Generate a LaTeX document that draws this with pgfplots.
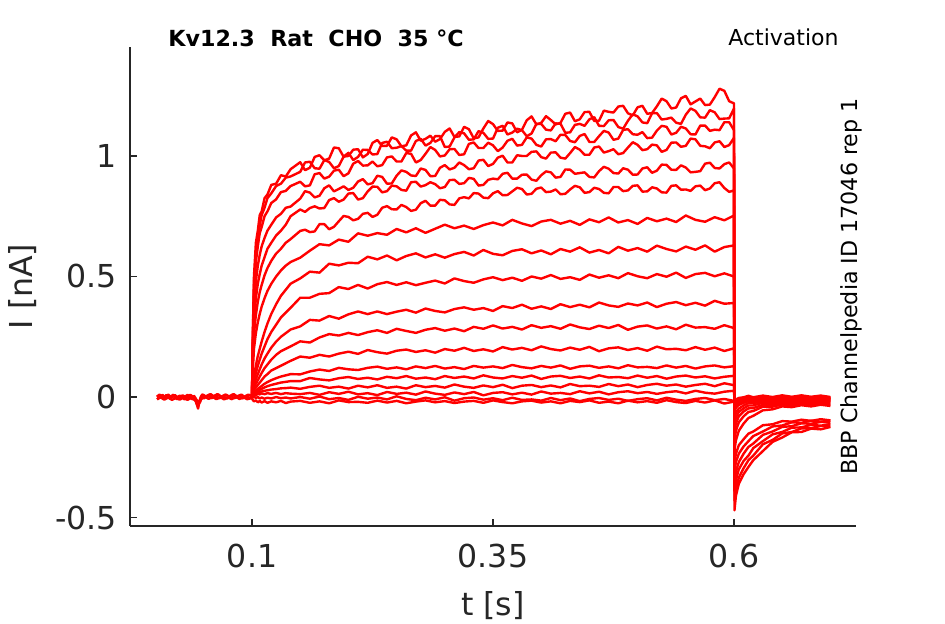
\documentclass[border=0pt]{standalone}
\usepackage{fontspec}
\setmainfont{DejaVu Sans}
\usepackage{pgfplots}
\pgfplotsset{compat=1.18}
\definecolor{axgray}{gray}{0.15}
\begin{document}
\begin{tikzpicture}
\begin{axis}[
 name=ax, at={(0,0)}, anchor=south west,
 scale only axis, width=363pt, height=239.5pt,
 xmin=-0.0266, xmax=0.7266, ymin=-0.535, ymax=1.452,
 axis lines*=left,
 axis line style={axgray, line width=0.6pt},
 xtick={0.1,0.35,0.6}, xticklabels={0.1,0.35,0.6},
 ytick={-0.5,0,0.5,1}, yticklabels={-0.5,0,0.5,1},
 tick align=inside, major tick length=3.5pt,
 tick style={axgray, line width=0.6pt},
 ticklabel style={font=\fontsize{15.8}{19}\selectfont, text=axgray},
 xticklabel style={yshift=-5.5pt},
 yticklabel style={xshift=-3pt},
 xlabel={t [s]}, ylabel={I [nA]},
 label style={font=\fontsize{15.8}{19}\selectfont, text=axgray},
 xlabel style={at={(axis description cs:0.5,-0.1858)}, anchor=base},
 ylabel style={at={(axis description cs:-0.1336,0.5)}, anchor=base},
 tr/.style={red, line width=1.2pt, line join=round},
]
% baseline before the pulse
\addplot[tr] coordinates {(0.0015,0.008)(0.004,-0.004)(0.007,0.009)(0.01,-0.002)(0.013,0.01)(0.016,0.0)(0.02,0.008)(0.024,-0.005)(0.028,0.007)(0.032,-0.002)(0.036,0.009)(0.04,-0.002)(0.042,-0.02)(0.044,-0.048)(0.046,-0.01)(0.048,0.009)(0.052,0.002)(0.056,0.011)(0.06,0.003)(0.064,0.012)(0.068,0.0)(0.072,0.01)(0.076,0.002)(0.08,0.011)(0.084,-0.001)(0.088,0.009)(0.092,0.001)(0.096,0.01)(0.1,0.003)};
\addplot[tr] coordinates {(0.0015,-0.009)(0.005,0.004)(0.008,-0.008)(0.012,0.003)(0.015,-0.007)(0.019,0.005)(0.022,-0.009)(0.026,0.004)(0.03,-0.01)(0.034,0.002)(0.038,-0.009)(0.041,-0.01)(0.043,-0.032)(0.045,-0.026)(0.047,0.002)(0.05,-0.006)(0.054,0.006)(0.058,-0.005)(0.062,0.004)(0.066,-0.006)(0.07,0.005)(0.074,-0.007)(0.078,0.004)(0.082,-0.005)(0.086,0.006)(0.09,-0.006)(0.094,0.003)(0.097,-0.005)(0.1,-0.002)};
\addplot[tr] coordinates {(0.0015,0.001)(0.004,0.01)(0.008,-0.003)(0.011,0.008)(0.014,-0.004)(0.018,0.009)(0.021,-0.006)(0.025,0.006)(0.029,-0.003)(0.033,0.009)(0.037,-0.004)(0.04,0.004)(0.043,-0.015)(0.046,-0.022)(0.049,0.01)(0.053,0.0)(0.057,0.012)(0.061,0.001)(0.065,0.011)(0.069,-0.002)(0.073,0.01)(0.077,0.0)(0.081,0.012)(0.085,0.001)(0.089,0.01)(0.093,-0.002)(0.097,0.008)(0.1,0.004)};
\addplot[tr] coordinates {(0.0015,-0.01)(0.005,-0.001)(0.009,-0.011)(0.013,-0.002)(0.017,-0.012)(0.021,-0.003)(0.025,-0.011)(0.029,-0.002)(0.033,-0.012)(0.037,-0.003)(0.041,-0.013)(0.044,-0.036)(0.047,-0.009)(0.051,0.002)(0.055,-0.008)(0.059,0.001)(0.063,-0.009)(0.067,0.0)(0.071,-0.01)(0.075,-0.001)(0.079,-0.009)(0.083,0.001)(0.087,-0.008)(0.091,-0.001)(0.095,-0.009)(0.1,-0.004)};
% k1
\addplot[tr] coordinates {(0.1,0.002)(0.1005,0.20)(0.102,0.50)(0.104,0.64)(0.106,0.69)(0.108,0.755)(0.11,0.77)(0.113,0.825)(0.116,0.84)(0.12,0.88)(0.125,0.885)(0.13,0.92)(0.135,0.915)(0.14,0.945)(0.15,0.974)(0.155,0.941)(0.16,0.951)(0.165,0.996)(0.17,1.003)(0.175,0.982)(0.18,0.989)(0.185,1.035)(0.19,1.032)(0.195,0.997)(0.2,1.000)(0.205,1.026)(0.21,1.028)(0.215,0.994)(0.22,1.008)(0.225,1.054)(0.23,1.066)(0.235,1.042)(0.24,1.042)(0.245,1.077)(0.25,1.069)(0.255,1.040)(0.26,1.044)(0.265,1.085)(0.27,1.098)(0.275,1.063)(0.28,1.071)(0.285,1.084)(0.29,1.059)(0.295,1.070)(0.3,1.100)(0.305,1.114)(0.31,1.079)(0.315,1.081)(0.32,1.121)(0.325,1.111)(0.33,1.073)(0.335,1.077)(0.34,1.114)(0.345,1.145)(0.35,1.132)(0.355,1.104)(0.36,1.105)(0.365,1.139)(0.37,1.135)(0.375,1.098)(0.38,1.108)(0.385,1.148)(0.39,1.164)(0.395,1.131)(0.4,1.137)(0.405,1.165)(0.41,1.149)(0.415,1.131)(0.42,1.137)(0.425,1.175)(0.43,1.180)(0.435,1.144)(0.44,1.152)(0.445,1.182)(0.45,1.183)(0.455,1.145)(0.46,1.146)(0.465,1.188)(0.47,1.183)(0.475,1.180)(0.48,1.205)(0.485,1.208)(0.49,1.177)(0.495,1.168)(0.5,1.202)(0.505,1.208)(0.51,1.175)(0.515,1.178)(0.52,1.206)(0.525,1.238)(0.53,1.227)(0.535,1.197)(0.54,1.201)(0.545,1.239)(0.55,1.249)(0.555,1.214)(0.56,1.226)(0.565,1.238)(0.57,1.211)(0.575,1.213)(0.58,1.244)(0.585,1.279)(0.59,1.270)(0.595,1.227)(0.6,1.218)(0.6005,-0.47)(0.602,-0.41)(0.605,-0.36)(0.61,-0.32)(0.615,-0.29)(0.62,-0.262)(0.63,-0.224)(0.64,-0.186)(0.65,-0.168)(0.66,-0.146)(0.67,-0.145)(0.68,-0.131)(0.69,-0.134)(0.7,-0.124)};
% k2
\addplot[tr] coordinates {(0.1,-0.001)(0.1005,0.19)(0.102,0.47)(0.104,0.60)(0.106,0.675)(0.108,0.71)(0.11,0.755)(0.113,0.785)(0.116,0.825)(0.12,0.845)(0.125,0.875)(0.13,0.885)(0.135,0.91)(0.14,0.915)(0.15,0.934)(0.155,0.973)(0.16,0.976)(0.165,0.949)(0.17,0.947)(0.175,0.983)(0.18,0.975)(0.185,0.949)(0.19,0.958)(0.195,0.997)(0.2,1.013)(0.205,0.983)(0.21,0.996)(0.215,1.026)(0.22,1.025)(0.225,1.006)(0.23,1.008)(0.235,1.054)(0.24,1.059)(0.245,1.032)(0.25,1.034)(0.255,1.041)(0.26,1.022)(0.265,1.022)(0.27,1.062)(0.275,1.071)(0.28,1.043)(0.285,1.054)(0.29,1.082)(0.295,1.082)(0.3,1.037)(0.305,1.039)(0.31,1.077)(0.315,1.099)(0.32,1.094)(0.325,1.067)(0.33,1.069)(0.335,1.103)(0.34,1.096)(0.345,1.071)(0.35,1.072)(0.355,1.117)(0.36,1.125)(0.365,1.089)(0.37,1.097)(0.375,1.113)(0.38,1.107)(0.385,1.082)(0.39,1.093)(0.395,1.133)(0.4,1.133)(0.405,1.109)(0.41,1.106)(0.415,1.135)(0.42,1.134)(0.425,1.096)(0.43,1.098)(0.435,1.129)(0.44,1.133)(0.445,1.125)(0.45,1.152)(0.455,1.161)(0.46,1.125)(0.465,1.124)(0.47,1.148)(0.475,1.149)(0.48,1.120)(0.485,1.113)(0.49,1.146)(0.495,1.173)(0.5,1.164)(0.505,1.139)(0.51,1.136)(0.515,1.177)(0.52,1.178)(0.525,1.151)(0.53,1.154)(0.535,1.159)(0.54,1.138)(0.545,1.133)(0.55,1.171)(0.555,1.197)(0.56,1.187)(0.565,1.160)(0.57,1.159)(0.575,1.190)(0.58,1.181)(0.585,1.153)(0.59,1.155)(0.595,1.156)(0.6,1.197)(0.6005,-0.43)(0.602,-0.38)(0.605,-0.335)(0.61,-0.295)(0.615,-0.262)(0.62,-0.243)(0.63,-0.196)(0.64,-0.178)(0.65,-0.151)(0.66,-0.145)(0.67,-0.13)(0.68,-0.129)(0.69,-0.12)(0.7,-0.122)};
% k3
\addplot[tr] coordinates {(0.1,0.003)(0.1005,0.17)(0.102,0.43)(0.104,0.56)(0.106,0.625)(0.108,0.68)(0.11,0.705)(0.113,0.75)(0.116,0.77)(0.12,0.805)(0.125,0.82)(0.13,0.85)(0.135,0.855)(0.14,0.875)(0.15,0.893)(0.155,0.874)(0.16,0.878)(0.165,0.924)(0.17,0.929)(0.175,0.906)(0.18,0.914)(0.185,0.939)(0.19,0.943)(0.195,0.916)(0.2,0.928)(0.205,0.968)(0.21,0.979)(0.215,0.960)(0.22,0.961)(0.225,0.977)(0.23,0.957)(0.235,0.962)(0.24,0.994)(0.245,0.998)(0.25,0.977)(0.255,0.977)(0.26,1.012)(0.265,1.009)(0.27,0.973)(0.275,0.983)(0.28,1.009)(0.285,1.037)(0.29,1.025)(0.295,0.998)(0.3,1.002)(0.305,1.028)(0.31,1.029)(0.315,1.004)(0.32,1.007)(0.325,1.050)(0.33,1.056)(0.335,1.033)(0.34,1.033)(0.345,1.055)(0.35,1.044)(0.355,1.020)(0.36,1.035)(0.365,1.063)(0.37,1.071)(0.375,1.043)(0.38,1.046)(0.385,1.077)(0.39,1.072)(0.395,1.046)(0.4,1.039)(0.405,1.069)(0.41,1.070)(0.415,1.061)(0.42,1.088)(0.425,1.087)(0.43,1.062)(0.435,1.057)(0.44,1.083)(0.445,1.091)(0.45,1.058)(0.455,1.058)(0.46,1.082)(0.465,1.104)(0.47,1.097)(0.475,1.067)(0.48,1.072)(0.485,1.108)(0.49,1.111)(0.495,1.090)(0.5,1.088)(0.505,1.099)(0.51,1.074)(0.515,1.076)(0.52,1.105)(0.525,1.125)(0.53,1.121)(0.535,1.089)(0.54,1.096)(0.545,1.121)(0.55,1.114)(0.555,1.090)(0.56,1.089)(0.565,1.126)(0.57,1.126)(0.575,1.104)(0.58,1.109)(0.585,1.107)(0.59,1.140)(0.595,1.140)(0.6,1.107)(0.6005,-0.39)(0.602,-0.345)(0.605,-0.30)(0.61,-0.265)(0.615,-0.243)(0.62,-0.212)(0.63,-0.183)(0.64,-0.155)(0.65,-0.145)(0.66,-0.127)(0.67,-0.126)(0.68,-0.115)(0.69,-0.119)(0.7,-0.112)};
% k4
\addplot[tr] coordinates {(0.1,-0.003)(0.1005,0.15)(0.102,0.37)(0.104,0.48)(0.106,0.545)(0.108,0.59)(0.11,0.625)(0.113,0.66)(0.116,0.69)(0.12,0.715)(0.125,0.745)(0.13,0.76)(0.135,0.785)(0.14,0.79)(0.15,0.823)(0.155,0.854)(0.16,0.848)(0.165,0.828)(0.17,0.835)(0.175,0.866)(0.18,0.878)(0.185,0.853)(0.19,0.863)(0.195,0.874)(0.2,0.859)(0.205,0.868)(0.21,0.894)(0.215,0.904)(0.22,0.882)(0.225,0.887)(0.23,0.918)(0.235,0.913)(0.24,0.885)(0.245,0.886)(0.25,0.918)(0.255,0.940)(0.26,0.934)(0.265,0.919)(0.27,0.917)(0.275,0.948)(0.28,0.942)(0.285,0.916)(0.29,0.917)(0.295,0.951)(0.3,0.962)(0.305,0.944)(0.31,0.951)(0.315,0.973)(0.32,0.962)(0.325,0.945)(0.33,0.949)(0.335,0.981)(0.34,0.984)(0.345,0.958)(0.35,0.967)(0.355,0.993)(0.36,1.001)(0.365,0.973)(0.37,0.973)(0.375,1.003)(0.38,1.000)(0.385,1.000)(0.39,1.017)(0.395,1.019)(0.4,0.995)(0.405,0.989)(0.41,1.014)(0.415,1.015)(0.42,0.993)(0.425,0.989)(0.43,1.012)(0.435,1.037)(0.44,1.026)(0.445,1.005)(0.45,1.005)(0.455,1.035)(0.46,1.039)(0.465,1.014)(0.47,1.020)(0.475,1.028)(0.48,1.007)(0.485,1.012)(0.49,1.035)(0.495,1.057)(0.5,1.046)(0.505,1.024)(0.51,1.028)(0.515,1.047)(0.52,1.044)(0.525,1.017)(0.53,1.025)(0.535,1.055)(0.54,1.056)(0.545,1.038)(0.55,1.042)(0.555,1.072)(0.56,1.069)(0.565,1.042)(0.57,1.040)(0.575,1.032)(0.58,1.056)(0.585,1.061)(0.59,1.037)(0.595,1.045)(0.6,1.075)(0.6005,-0.35)(0.602,-0.31)(0.605,-0.27)(0.61,-0.235)(0.615,-0.207)(0.62,-0.193)(0.63,-0.157)(0.64,-0.143)(0.65,-0.124)(0.66,-0.121)(0.67,-0.109)(0.68,-0.111)(0.69,-0.103)(0.7,-0.106)};
% k5
\addplot[tr] coordinates {(0.1,0.001)(0.1005,0.13)(0.102,0.31)(0.104,0.41)(0.106,0.47)(0.108,0.51)(0.11,0.545)(0.113,0.58)(0.116,0.615)(0.12,0.64)(0.125,0.67)(0.13,0.69)(0.135,0.715)(0.14,0.75)(0.15,0.778)(0.155,0.768)(0.16,0.784)(0.165,0.791)(0.17,0.782)(0.175,0.784)(0.18,0.817)(0.185,0.825)(0.19,0.810)(0.195,0.819)(0.2,0.844)(0.205,0.846)(0.21,0.819)(0.215,0.825)(0.22,0.853)(0.225,0.873)(0.23,0.872)(0.235,0.849)(0.24,0.854)(0.245,0.877)(0.25,0.874)(0.255,0.859)(0.26,0.856)(0.265,0.891)(0.27,0.893)(0.275,0.873)(0.28,0.879)(0.285,0.891)(0.29,0.883)(0.295,0.866)(0.3,0.871)(0.305,0.900)(0.31,0.901)(0.315,0.884)(0.32,0.887)(0.325,0.909)(0.33,0.905)(0.335,0.877)(0.34,0.880)(0.345,0.901)(0.35,0.906)(0.355,0.903)(0.36,0.926)(0.365,0.930)(0.37,0.906)(0.375,0.906)(0.38,0.922)(0.385,0.923)(0.39,0.902)(0.395,0.897)(0.4,0.920)(0.405,0.936)(0.41,0.932)(0.415,0.910)(0.42,0.913)(0.425,0.944)(0.43,0.943)(0.435,0.926)(0.44,0.929)(0.445,0.932)(0.45,0.913)(0.455,0.911)(0.46,0.937)(0.465,0.955)(0.47,0.947)(0.475,0.929)(0.48,0.927)(0.485,0.949)(0.49,0.943)(0.495,0.922)(0.5,0.923)(0.505,0.948)(0.51,0.953)(0.515,0.930)(0.52,0.939)(0.525,0.964)(0.53,0.963)(0.535,0.943)(0.54,0.942)(0.545,0.961)(0.55,0.952)(0.555,0.932)(0.56,0.934)(0.565,0.937)(0.57,0.968)(0.575,0.972)(0.58,0.950)(0.585,0.948)(0.59,0.966)(0.595,0.973)(0.6,0.948)(0.6005,-0.31)(0.602,-0.27)(0.605,-0.235)(0.61,-0.205)(0.615,-0.183)(0.62,-0.162)(0.63,-0.143)(0.64,-0.122)(0.65,-0.118)(0.66,-0.105)(0.67,-0.107)(0.68,-0.098)(0.69,-0.103)(0.7,-0.097)};
% k6
\addplot[tr] coordinates {(0.1,0.004)(0.1005,0.11)(0.102,0.26)(0.104,0.34)(0.106,0.395)(0.108,0.435)(0.11,0.465)(0.113,0.505)(0.116,0.535)(0.12,0.565)(0.125,0.595)(0.13,0.615)(0.135,0.64)(0.14,0.655)(0.15,0.689)(0.155,0.694)(0.16,0.684)(0.165,0.687)(0.17,0.717)(0.175,0.717)(0.18,0.696)(0.185,0.706)(0.19,0.729)(0.195,0.751)(0.2,0.747)(0.205,0.733)(0.21,0.739)(0.215,0.760)(0.22,0.764)(0.225,0.747)(0.23,0.756)(0.235,0.785)(0.24,0.792)(0.245,0.779)(0.25,0.778)(0.255,0.797)(0.26,0.788)(0.265,0.772)(0.27,0.777)(0.275,0.804)(0.28,0.814)(0.285,0.794)(0.29,0.794)(0.295,0.818)(0.3,0.816)(0.305,0.799)(0.31,0.797)(0.315,0.824)(0.32,0.829)(0.325,0.824)(0.33,0.846)(0.335,0.844)(0.34,0.827)(0.345,0.825)(0.35,0.845)(0.355,0.854)(0.36,0.837)(0.365,0.838)(0.37,0.853)(0.375,0.868)(0.38,0.863)(0.385,0.840)(0.39,0.843)(0.395,0.864)(0.4,0.869)(0.405,0.850)(0.41,0.852)(0.415,0.861)(0.42,0.841)(0.425,0.843)(0.43,0.861)(0.435,0.876)(0.44,0.870)(0.445,0.847)(0.45,0.850)(0.455,0.868)(0.46,0.863)(0.465,0.847)(0.47,0.845)(0.475,0.871)(0.48,0.871)(0.485,0.854)(0.49,0.857)(0.495,0.876)(0.5,0.878)(0.505,0.852)(0.51,0.853)(0.515,0.870)(0.52,0.865)(0.525,0.849)(0.53,0.848)(0.535,0.876)(0.54,0.878)(0.545,0.860)(0.55,0.861)(0.555,0.855)(0.56,0.874)(0.565,0.877)(0.57,0.858)(0.575,0.865)(0.58,0.887)(0.585,0.891)(0.59,0.867)(0.595,0.851)(0.6,0.857)(0.6005,-0.27)(0.602,-0.235)(0.605,-0.20)(0.61,-0.175)(0.615,-0.152)(0.62,-0.143)(0.63,-0.117)(0.64,-0.113)(0.65,-0.1)(0.66,-0.102)(0.67,-0.094)(0.68,-0.099)(0.69,-0.092)(0.7,-0.097)};
% k7
\addplot[tr] coordinates {(0.1,-0.002)(0.1005,0.09)(0.102,0.20)(0.104,0.265)(0.106,0.31)(0.108,0.345)(0.11,0.375)(0.113,0.41)(0.116,0.44)(0.12,0.47)(0.125,0.50)(0.13,0.525)(0.135,0.545)(0.14,0.56)(0.15,0.578)(0.16,0.607)(0.17,0.634)(0.18,0.629)(0.19,0.653)(0.2,0.644)(0.21,0.679)(0.22,0.669)(0.23,0.680)(0.24,0.673)(0.25,0.697)(0.26,0.683)(0.27,0.700)(0.28,0.681)(0.29,0.698)(0.3,0.715)(0.31,0.700)(0.32,0.711)(0.33,0.697)(0.34,0.713)(0.35,0.724)(0.36,0.712)(0.37,0.735)(0.38,0.720)(0.39,0.709)(0.4,0.728)(0.41,0.735)(0.42,0.719)(0.43,0.731)(0.44,0.714)(0.45,0.737)(0.46,0.725)(0.47,0.745)(0.48,0.724)(0.49,0.734)(0.5,0.718)(0.51,0.743)(0.52,0.729)(0.53,0.740)(0.54,0.726)(0.55,0.753)(0.56,0.735)(0.57,0.727)(0.58,0.746)(0.59,0.733)(0.6,0.753)(0.6005,-0.22)(0.602,-0.18)(0.605,-0.14)(0.61,-0.11)(0.615,-0.087)(0.62,-0.078)(0.63,-0.055)(0.64,-0.051)(0.65,-0.039)(0.66,-0.042)(0.67,-0.034)(0.68,-0.039)(0.69,-0.032)(0.7,-0.037)};
% k8
\addplot[tr] coordinates {(0.1,0.002)(0.1005,0.05)(0.102,0.09)(0.104,0.13)(0.106,0.17)(0.108,0.20)(0.11,0.23)(0.113,0.27)(0.116,0.305)(0.12,0.345)(0.125,0.385)(0.13,0.42)(0.135,0.445)(0.14,0.47)(0.15,0.492)(0.16,0.520)(0.17,0.516)(0.18,0.553)(0.19,0.546)(0.2,0.557)(0.21,0.555)(0.22,0.582)(0.23,0.571)(0.24,0.587)(0.25,0.567)(0.26,0.585)(0.27,0.596)(0.28,0.579)(0.29,0.592)(0.3,0.578)(0.31,0.593)(0.32,0.602)(0.33,0.587)(0.34,0.610)(0.35,0.594)(0.36,0.588)(0.37,0.606)(0.38,0.613)(0.39,0.596)(0.4,0.608)(0.41,0.592)(0.42,0.614)(0.43,0.603)(0.44,0.621)(0.45,0.599)(0.46,0.610)(0.47,0.596)(0.48,0.623)(0.49,0.607)(0.5,0.618)(0.51,0.603)(0.52,0.628)(0.53,0.614)(0.54,0.604)(0.55,0.624)(0.56,0.611)(0.57,0.629)(0.58,0.603)(0.59,0.622)(0.6,0.629)(0.6005,-0.18)(0.602,-0.14)(0.605,-0.105)(0.61,-0.08)(0.615,-0.062)(0.62,-0.058)(0.63,-0.04)(0.64,-0.04)(0.65,-0.031)(0.66,-0.035)(0.67,-0.028)(0.68,-0.033)(0.69,-0.027)(0.7,-0.032)};
% k9
\addplot[tr] coordinates {(0.1,-0.001)(0.1005,0.04)(0.102,0.07)(0.104,0.10)(0.106,0.13)(0.108,0.155)(0.11,0.18)(0.113,0.21)(0.116,0.24)(0.12,0.27)(0.125,0.30)(0.13,0.33)(0.135,0.35)(0.14,0.37)(0.15,0.412)(0.16,0.412)(0.17,0.428)(0.18,0.431)(0.19,0.456)(0.2,0.448)(0.21,0.465)(0.22,0.450)(0.23,0.468)(0.24,0.477)(0.25,0.465)(0.26,0.476)(0.27,0.464)(0.28,0.474)(0.29,0.483)(0.3,0.471)(0.31,0.492)(0.32,0.481)(0.33,0.474)(0.34,0.488)(0.35,0.497)(0.36,0.485)(0.37,0.495)(0.38,0.482)(0.39,0.500)(0.4,0.491)(0.41,0.506)(0.42,0.490)(0.43,0.497)(0.44,0.486)(0.45,0.508)(0.46,0.495)(0.47,0.505)(0.48,0.493)(0.49,0.514)(0.5,0.501)(0.51,0.493)(0.52,0.510)(0.53,0.499)(0.54,0.516)(0.55,0.494)(0.56,0.510)(0.57,0.515)(0.58,0.501)(0.59,0.513)(0.6,0.500)(0.6005,-0.14)(0.602,-0.11)(0.605,-0.08)(0.61,-0.06)(0.615,-0.047)(0.62,-0.046)(0.63,-0.032)(0.64,-0.033)(0.65,-0.025)(0.66,-0.03)(0.67,-0.023)(0.68,-0.028)(0.69,-0.022)(0.7,-0.027)};
% k10
\addplot[tr] coordinates {(0.1,0.003)(0.1005,0.03)(0.102,0.05)(0.104,0.075)(0.106,0.095)(0.108,0.115)(0.11,0.135)(0.113,0.16)(0.116,0.18)(0.12,0.205)(0.125,0.23)(0.13,0.25)(0.135,0.265)(0.14,0.28)(0.15,0.293)(0.16,0.320)(0.17,0.317)(0.18,0.336)(0.19,0.325)(0.2,0.343)(0.21,0.355)(0.22,0.344)(0.23,0.355)(0.24,0.344)(0.25,0.354)(0.26,0.362)(0.27,0.350)(0.28,0.367)(0.29,0.357)(0.3,0.351)(0.31,0.365)(0.32,0.372)(0.33,0.362)(0.34,0.369)(0.35,0.357)(0.36,0.377)(0.37,0.369)(0.38,0.383)(0.39,0.366)(0.4,0.376)(0.41,0.365)(0.42,0.385)(0.43,0.373)(0.44,0.383)(0.45,0.372)(0.46,0.392)(0.47,0.380)(0.48,0.374)(0.49,0.388)(0.5,0.380)(0.51,0.392)(0.52,0.373)(0.53,0.387)(0.54,0.394)(0.55,0.381)(0.56,0.391)(0.57,0.379)(0.58,0.399)(0.59,0.387)(0.6,0.390)(0.6005,-0.11)(0.602,-0.085)(0.605,-0.062)(0.61,-0.047)(0.615,-0.035)(0.62,-0.035)(0.63,-0.023)(0.64,-0.026)(0.65,-0.018)(0.66,-0.023)(0.67,-0.017)(0.68,-0.022)(0.69,-0.016)(0.7,-0.021)};
% k11
\addplot[tr] coordinates {(0.1,-0.004)(0.1005,0.025)(0.102,0.04)(0.104,0.055)(0.106,0.07)(0.108,0.085)(0.11,0.10)(0.113,0.12)(0.116,0.135)(0.12,0.155)(0.125,0.175)(0.13,0.19)(0.135,0.20)(0.14,0.21)(0.15,0.231)(0.16,0.226)(0.17,0.247)(0.18,0.261)(0.19,0.255)(0.2,0.266)(0.21,0.257)(0.22,0.269)(0.23,0.277)(0.24,0.266)(0.25,0.283)(0.26,0.274)(0.27,0.266)(0.28,0.279)(0.29,0.286)(0.3,0.275)(0.31,0.284)(0.32,0.273)(0.33,0.291)(0.34,0.283)(0.35,0.297)(0.36,0.284)(0.37,0.291)(0.38,0.280)(0.39,0.298)(0.4,0.287)(0.41,0.294)(0.42,0.283)(0.43,0.301)(0.44,0.289)(0.45,0.282)(0.46,0.296)(0.47,0.286)(0.48,0.299)(0.49,0.279)(0.5,0.292)(0.51,0.297)(0.52,0.284)(0.53,0.293)(0.54,0.281)(0.55,0.300)(0.56,0.288)(0.57,0.290)(0.58,0.283)(0.59,0.298)(0.6,0.286)(0.6005,-0.085)(0.602,-0.065)(0.605,-0.048)(0.61,-0.035)(0.615,-0.025)(0.62,-0.026)(0.63,-0.016)(0.64,-0.02)(0.65,-0.012)(0.66,-0.018)(0.67,-0.011)(0.68,-0.017)(0.69,-0.01)(0.7,-0.016)};
% k12
\addplot[tr] coordinates {(0.1,0.002)(0.1005,0.02)(0.102,0.03)(0.104,0.04)(0.106,0.05)(0.108,0.06)(0.11,0.07)(0.113,0.085)(0.116,0.095)(0.12,0.11)(0.125,0.12)(0.13,0.13)(0.135,0.14)(0.14,0.15)(0.15,0.168)(0.16,0.163)(0.17,0.175)(0.18,0.168)(0.19,0.180)(0.2,0.188)(0.21,0.179)(0.22,0.195)(0.23,0.186)(0.24,0.180)(0.25,0.192)(0.26,0.197)(0.27,0.187)(0.28,0.194)(0.29,0.184)(0.3,0.199)(0.31,0.192)(0.32,0.204)(0.33,0.191)(0.34,0.198)(0.35,0.189)(0.36,0.207)(0.37,0.197)(0.38,0.204)(0.39,0.194)(0.4,0.210)(0.41,0.199)(0.42,0.193)(0.43,0.205)(0.44,0.196)(0.45,0.208)(0.46,0.190)(0.47,0.202)(0.48,0.206)(0.49,0.195)(0.5,0.203)(0.51,0.192)(0.52,0.209)(0.53,0.198)(0.54,0.200)(0.55,0.194)(0.56,0.207)(0.57,0.196)(0.58,0.205)(0.59,0.191)(0.6,0.202)(0.6005,-0.06)(0.602,-0.045)(0.605,-0.033)(0.61,-0.024)(0.615,-0.016)(0.62,-0.019)(0.63,-0.01)(0.64,-0.015)(0.65,-0.008)(0.66,-0.014)(0.67,-0.007)(0.68,-0.013)(0.69,-0.006)(0.7,-0.012)};
% k13
\addplot[tr] coordinates {(0.1,-0.002)(0.1005,0.015)(0.102,0.02)(0.104,0.027)(0.106,0.034)(0.108,0.04)(0.11,0.046)(0.113,0.055)(0.116,0.062)(0.12,0.07)(0.125,0.078)(0.13,0.085)(0.135,0.09)(0.14,0.095)(0.15,0.094)(0.16,0.106)(0.17,0.114)(0.18,0.108)(0.19,0.121)(0.2,0.115)(0.21,0.112)(0.22,0.121)(0.23,0.126)(0.24,0.117)(0.25,0.123)(0.26,0.115)(0.27,0.127)(0.28,0.120)(0.29,0.129)(0.3,0.118)(0.31,0.124)(0.32,0.116)(0.33,0.129)(0.34,0.122)(0.35,0.127)(0.36,0.120)(0.37,0.133)(0.38,0.124)(0.39,0.119)(0.4,0.129)(0.41,0.122)(0.42,0.131)(0.43,0.117)(0.44,0.127)(0.45,0.130)(0.46,0.121)(0.47,0.127)(0.48,0.119)(0.49,0.132)(0.5,0.123)(0.51,0.125)(0.52,0.120)(0.53,0.131)(0.54,0.122)(0.55,0.129)(0.56,0.118)(0.57,0.127)(0.58,0.131)(0.59,0.123)(0.6,0.128)(0.6005,-0.045)(0.602,-0.034)(0.605,-0.024)(0.61,-0.018)(0.615,-0.01)(0.62,-0.015)(0.63,-0.006)(0.64,-0.012)(0.65,-0.004)(0.66,-0.011)(0.67,-0.003)(0.68,-0.01)(0.69,-0.002)(0.7,-0.009)};
% k14
\addplot[tr] coordinates {(0.1,0.001)(0.1005,0.01)(0.102,0.015)(0.104,0.02)(0.106,0.025)(0.108,0.03)(0.11,0.034)(0.113,0.04)(0.116,0.045)(0.12,0.05)(0.125,0.055)(0.13,0.06)(0.135,0.063)(0.14,0.066)(0.15,0.066)(0.16,0.079)(0.17,0.073)(0.18,0.069)(0.19,0.078)(0.2,0.083)(0.21,0.075)(0.22,0.080)(0.23,0.073)(0.24,0.084)(0.25,0.078)(0.26,0.087)(0.27,0.076)(0.28,0.081)(0.29,0.074)(0.3,0.087)(0.31,0.079)(0.32,0.085)(0.33,0.077)(0.34,0.090)(0.35,0.081)(0.36,0.077)(0.37,0.087)(0.38,0.080)(0.39,0.089)(0.4,0.075)(0.41,0.085)(0.42,0.088)(0.43,0.079)(0.44,0.085)(0.45,0.077)(0.46,0.090)(0.47,0.081)(0.48,0.083)(0.49,0.078)(0.5,0.089)(0.51,0.080)(0.52,0.087)(0.53,0.076)(0.54,0.085)(0.55,0.089)(0.56,0.081)(0.57,0.086)(0.58,0.077)(0.59,0.084)(0.6,0.088)(0.6005,-0.035)(0.602,-0.026)(0.605,-0.018)(0.61,-0.013)(0.615,-0.006)(0.62,-0.012)(0.63,-0.003)(0.64,-0.009)(0.65,-0.001)(0.66,-0.008)(0.67,0.0)(0.68,-0.007)(0.69,0.001)(0.7,-0.006)};
% k15
\addplot[tr] coordinates {(0.1,-0.003)(0.1005,0.008)(0.102,0.012)(0.104,0.015)(0.106,0.018)(0.108,0.02)(0.11,0.023)(0.113,0.026)(0.116,0.028)(0.12,0.031)(0.125,0.033)(0.13,0.036)(0.135,0.037)(0.14,0.039)(0.15,0.034)(0.16,0.042)(0.17,0.047)(0.18,0.038)(0.19,0.043)(0.2,0.035)(0.21,0.047)(0.22,0.040)(0.23,0.049)(0.24,0.038)(0.25,0.043)(0.26,0.035)(0.27,0.049)(0.28,0.041)(0.29,0.046)(0.3,0.039)(0.31,0.052)(0.32,0.043)(0.33,0.038)(0.34,0.048)(0.35,0.041)(0.36,0.051)(0.37,0.037)(0.38,0.047)(0.39,0.050)(0.4,0.041)(0.41,0.048)(0.42,0.040)(0.43,0.054)(0.44,0.045)(0.45,0.047)(0.46,0.042)(0.47,0.054)(0.48,0.045)(0.49,0.052)(0.5,0.041)(0.51,0.050)(0.52,0.055)(0.53,0.047)(0.54,0.052)(0.55,0.043)(0.56,0.050)(0.57,0.055)(0.58,0.045)(0.59,0.057)(0.6,0.049)(0.6005,-0.025)(0.602,-0.018)(0.605,-0.011)(0.61,-0.007)(0.615,0.0)(0.62,-0.006)(0.63,0.002)(0.64,-0.004)(0.65,0.003)(0.66,-0.003)(0.67,0.004)(0.68,-0.002)(0.69,0.004)(0.7,-0.002)};
% k16
\addplot[tr] coordinates {(0.1,0.002)(0.1005,0.006)(0.102,0.01)(0.104,0.008)(0.106,0.013)(0.108,0.011)(0.11,0.015)(0.113,0.012)(0.116,0.016)(0.12,0.013)(0.125,0.017)(0.13,0.012)(0.135,0.016)(0.14,0.014)(0.15,0.012)(0.16,0.017)(0.17,0.009)(0.18,0.020)(0.19,0.013)(0.2,0.022)(0.21,0.011)(0.22,0.016)(0.23,0.008)(0.24,0.021)(0.25,0.013)(0.26,0.018)(0.27,0.010)(0.28,0.023)(0.29,0.014)(0.3,0.009)(0.31,0.019)(0.32,0.012)(0.33,0.021)(0.34,0.007)(0.35,0.017)(0.36,0.020)(0.37,0.011)(0.38,0.018)(0.39,0.010)(0.4,0.023)(0.41,0.014)(0.42,0.017)(0.43,0.012)(0.44,0.024)(0.45,0.015)(0.46,0.022)(0.47,0.011)(0.48,0.020)(0.49,0.024)(0.5,0.016)(0.51,0.021)(0.52,0.013)(0.53,0.020)(0.54,0.024)(0.55,0.015)(0.56,0.026)(0.57,0.018)(0.58,0.014)(0.59,0.022)(0.6,0.026)(0.6005,-0.015)(0.602,-0.01)(0.605,-0.004)(0.61,-0.001)(0.615,0.005)(0.62,-0.001)(0.63,0.006)(0.64,0.0)(0.65,0.007)(0.66,0.001)(0.67,0.007)(0.68,0.001)(0.69,0.006)(0.7,0.0)};
% k17
\addplot[tr] coordinates {(0.1,-0.004)(0.1005,-0.002)(0.102,0.002)(0.104,-0.004)(0.106,0.0)(0.108,-0.006)(0.11,-0.002)(0.113,-0.007)(0.116,-0.003)(0.12,-0.006)(0.125,0.0)(0.13,-0.005)(0.135,-0.002)(0.14,-0.006)(0.15,0.000)(0.16,-0.007)(0.17,0.002)(0.18,-0.009)(0.19,-0.004)(0.2,-0.012)(0.21,0.001)(0.22,-0.007)(0.23,-0.002)(0.24,-0.010)(0.25,0.003)(0.26,-0.008)(0.27,-0.013)(0.28,-0.003)(0.29,-0.010)(0.3,-0.001)(0.31,-0.015)(0.32,-0.005)(0.33,-0.002)(0.34,-0.011)(0.35,-0.005)(0.36,-0.013)(0.37,-0.003)(0.38,-0.012)(0.39,-0.010)(0.4,-0.015)(0.41,-0.004)(0.42,-0.013)(0.43,-0.006)(0.44,-0.017)(0.45,-0.008)(0.46,-0.004)(0.47,-0.012)(0.48,-0.007)(0.49,-0.016)(0.5,-0.009)(0.51,-0.005)(0.52,-0.014)(0.53,-0.003)(0.54,-0.011)(0.55,-0.016)(0.56,-0.008)(0.57,-0.004)(0.58,-0.013)(0.59,-0.008)(0.6,-0.016)(0.6005,-0.015)(0.602,-0.012)(0.605,-0.008)(0.61,-0.01)(0.615,-0.005)(0.62,-0.01)(0.63,-0.004)(0.64,-0.009)(0.65,-0.003)(0.66,-0.009)(0.67,-0.003)(0.68,-0.008)(0.69,-0.004)(0.7,-0.009)};
% k18
\addplot[tr] coordinates {(0.1,-0.006)(0.1005,-0.01)(0.102,-0.018)(0.104,-0.014)(0.106,-0.022)(0.108,-0.016)(0.11,-0.023)(0.113,-0.017)(0.116,-0.024)(0.12,-0.018)(0.125,-0.022)(0.13,-0.016)(0.135,-0.025)(0.14,-0.019)(0.15,-0.016)(0.16,-0.024)(0.17,-0.018)(0.18,-0.026)(0.19,-0.014)(0.2,-0.021)(0.21,-0.020)(0.22,-0.024)(0.23,-0.015)(0.24,-0.023)(0.25,-0.016)(0.26,-0.026)(0.27,-0.019)(0.28,-0.014)(0.29,-0.022)(0.3,-0.017)(0.31,-0.025)(0.32,-0.019)(0.33,-0.016)(0.34,-0.024)(0.35,-0.014)(0.36,-0.021)(0.37,-0.026)(0.38,-0.018)(0.39,-0.015)(0.4,-0.023)(0.41,-0.018)(0.42,-0.026)(0.43,-0.016)(0.44,-0.021)(0.45,-0.014)(0.46,-0.024)(0.47,-0.019)(0.48,-0.026)(0.49,-0.015)(0.5,-0.022)(0.51,-0.017)(0.52,-0.024)(0.53,-0.013)(0.54,-0.021)(0.55,-0.025)(0.56,-0.016)(0.57,-0.023)(0.58,-0.014)(0.59,-0.027)(0.6,-0.019)(0.6005,-0.03)(0.602,-0.026)(0.605,-0.02)(0.61,-0.022)(0.615,-0.016)(0.62,-0.02)(0.63,-0.014)(0.64,-0.019)(0.65,-0.013)(0.66,-0.018)(0.67,-0.012)(0.68,-0.017)(0.69,-0.013)(0.7,-0.016)};
\end{axis}
\node[anchor=base west, inner sep=0pt, font=\fontsize{11.1}{13}\selectfont\bfseries] at ([xshift=19pt]ax.north west) {Kv12.3\ \ Rat\ \ CHO\ \ 35 °C};
\node[anchor=base west, inner sep=0pt, font=\fontsize{11}{13}\selectfont] at ([xshift=299pt,yshift=0.5pt]ax.north west) {Activation};
\node[rotate=90, anchor=base, inner sep=0pt, font=\fontsize{11.1}{13}\selectfont] at ([xshift=0.5pt]ax.east) {BBP Channelpedia ID 17046 rep 1};
\pgfresetboundingbox
\path (-65pt,-49pt) rectangle (407.5pt,263pt);
\end{tikzpicture}
\end{document}
